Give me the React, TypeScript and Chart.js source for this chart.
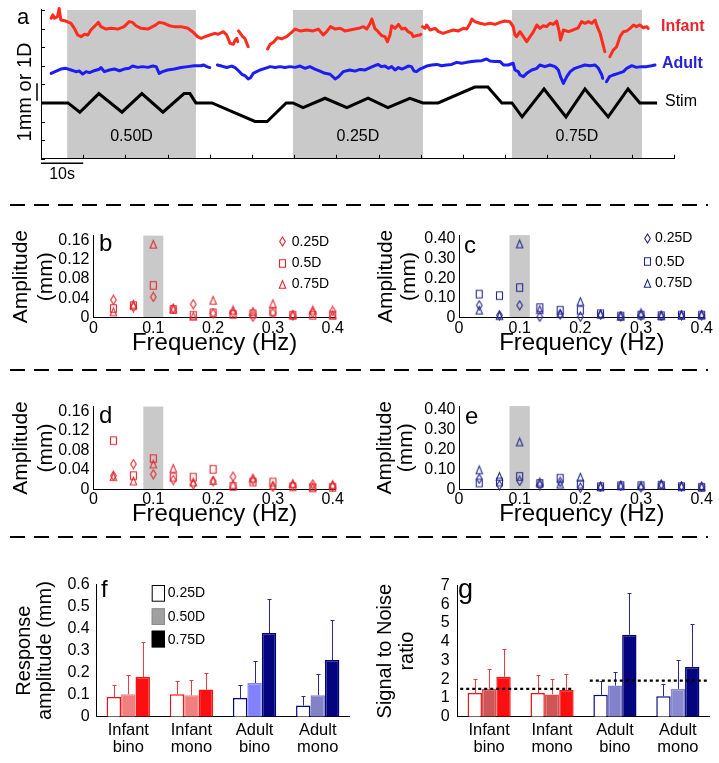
import React, { useEffect, useRef } from 'react';
import { Chart, registerables } from 'chart.js';

Chart.register(...registerables);

const FONT = "'Liberation Sans', Arial, Helvetica, sans-serif";
Chart.defaults.font.family = FONT;
Chart.defaults.font.size = 16;
Chart.defaults.color = '#000';

// ================= Panel a : time traces =================
const timeTicks = [0, 10, 20, 30, 40, 50, 60, 70, 80, 90, 100, 110, 120, 130, 140, 150];
const traceTicks = [0, 1, 2, 3, 4, 5, 6, 7, 8];
const bandStart = [6.2, 59.7, 111.6];
const bandEnd = [36.7, 90.5, 142.4];
const bandLabels = ['0.50D', '0.25D', '0.75D'];
const traceNames = ['Infant', 'Adult', 'Stim'];

const infantT = [2.4,2.8,3.2,3.9,4.3,4.7,5.9,7.1,7.9,8.7,9.5,10.3,11.1,11.8,13.0,13.6,14.2,15.4,16.6,18.2,19.7,20.9,21.7,22.5,23.7,25.3,26.9,28.0,29.2,30.4,31.6,33.2,34.8,35.9,37.1,37.9,38.9,40.0,41.2,42.0,43.2,44.0,44.8,45.6,46.0,46.4,46.6,46.7,46.8,47.8,48.3,49.1,51.0,53.7,54.3,55.1,56.0,57.0,58.2,59.4,60.2,61.4,63.0,64.5,65.7,66.9,67.7,68.6,69.7,70.9,72.0,73.2,74.4,75.6,76.4,77.2,78.0,78.4,79.1,79.9,80.7,81.5,82.1,82.7,83.1,83.9,84.7,85.5,86.3,87.0,87.8,88.2,89.0,89.8,90.0,90.2,90.4,91.0,91.4,92.2,93.4,94.2,95.3,96.5,97.7,98.9,100.1,100.9,101.7,102.1,102.8,104.0,105.2,106.4,107.6,108.8,109.9,111.1,111.9,112.3,112.7,113.5,114.3,115.1,115.9,116.7,117.5,118.2,119.0,119.8,120.6,121.4,122.2,122.8,123.1,123.8,125.0,126.1,127.3,128.1,128.9,129.7,130.5,131.3,131.8,132.5,133.1,133.6,134.2,134.8,135.6,136.4,137.2,138.0,138.8,139.6,140.4,141.1,141.9,142.7,143.5,143.9];
const infantV = [7.55,7.73,7.55,7.64,8.08,7.46,7.40,7.28,7.01,6.65,6.56,6.69,6.65,6.92,7.19,7.33,7.10,6.97,7.01,6.97,7.10,7.37,7.33,7.15,7.01,6.97,7.15,7.33,7.28,7.15,7.10,7.10,7.01,6.83,6.56,6.47,6.56,6.65,6.74,6.69,6.83,6.65,6.20,6.15,6.38,6.47,6.29,null,6.87,6.56,6.47,6.02,null,5.90,6.15,6.26,6.51,6.44,6.56,6.79,6.97,6.87,6.92,6.87,6.97,6.65,6.83,7.10,6.97,7.01,6.87,6.92,6.97,7.03,7.10,6.97,7.28,7.51,7.01,6.83,6.62,6.56,6.29,6.65,7.15,7.01,7.22,6.97,7.01,6.83,6.74,6.56,6.62,6.65,6.69,null,7.10,7.01,7.19,6.92,7.01,6.83,6.74,6.83,6.92,6.87,7.01,6.97,7.28,7.51,7.37,7.28,7.22,7.28,7.22,7.33,7.40,7.37,7.10,6.65,6.56,6.83,6.56,6.29,6.56,6.83,7.19,7.01,7.15,7.10,7.28,7.22,7.40,6.83,6.38,6.92,6.83,6.92,7.04,7.37,7.28,7.37,7.28,7.45,7.10,6.74,6.20,5.75,null,5.49,5.84,6.02,6.56,6.83,6.87,7.01,7.19,7.10,7.19,7.04,7.10,7.01];

const adultT = [2.4,3.6,4.7,5.9,7.1,8.3,9.1,9.9,10.7,11.5,12.6,13.8,14.2,15.0,16.2,17.4,18.6,19.7,20.9,21.7,22.9,24.1,25.3,26.5,27.3,28.0,28.8,30.0,31.6,33.2,34.8,36.3,37.9,38.5,39.3,40.0,40.9,41.8,42.8,44.0,45.2,46.0,46.8,47.6,48.3,49.1,49.7,50.3,51.1,51.9,53.1,54.3,55.5,56.6,57.8,59.0,60.2,61.4,62.6,63.7,64.9,66.1,67.3,68.5,69.7,70.5,71.6,73.2,74.4,75.6,76.8,78.0,79.1,79.9,80.7,81.5,82.3,83.1,83.9,84.7,85.5,86.3,87.0,87.8,88.4,89.0,89.8,90.6,91.4,92.6,93.8,94.9,96.1,97.3,98.5,99.7,100.9,102.1,103.2,104.4,105.6,106.4,107.6,108.8,109.6,110.7,111.9,112.3,113.1,113.5,114.3,115.1,116.3,117.5,118.2,119.4,120.6,121.8,122.6,123.1,123.8,124.6,125.4,126.5,127.7,128.9,130.1,131.3,132.1,132.9,133.1,133.6,134.0,134.7,135.6,136.8,138.0,138.8,140.0,141.1,142.3,143.5,144.7,145.5];
const adultV = [4.59,4.71,4.82,4.86,4.77,4.68,4.71,4.55,4.68,4.63,4.73,4.81,4.90,4.68,4.77,4.82,4.73,4.82,4.86,4.98,4.91,4.95,4.91,4.98,4.95,4.59,4.68,4.77,4.82,4.90,4.95,5.00,5.00,5.04,4.95,4.90,null,5.04,4.98,4.90,4.98,4.90,4.73,4.54,4.47,4.29,4.36,4.59,4.68,4.77,4.86,4.95,4.90,4.95,4.90,4.95,4.91,4.98,4.86,4.95,4.82,4.71,4.59,4.54,4.29,4.41,4.68,4.77,4.71,4.80,4.77,4.90,5.00,5.07,4.95,4.98,4.86,4.95,4.77,4.90,4.82,4.90,4.98,4.95,4.71,4.68,4.82,4.90,4.98,5.04,5.07,5.00,5.04,5.07,5.18,5.13,5.18,5.22,5.25,5.27,5.36,5.25,5.22,5.22,5.04,5.04,5.13,4.77,4.68,4.50,4.41,4.59,4.77,4.86,5.04,4.95,5.04,4.95,4.77,4.41,4.05,4.41,4.68,4.86,4.95,5.04,5.00,5.04,4.86,4.50,4.32,null,4.14,4.41,4.50,4.59,4.68,4.86,5.00,4.91,4.95,4.95,5.00,5.04];

const stimT = [0,6.4,9.2,13.7,19.2,23.9,28.9,33.9,35.3,36.7,40.5,50.7,53.6,58.1,59.7,62.1,67.3,72.5,77.5,82.2,87.4,90.5,94.1,102.8,105.9,109.2,111.6,114.0,119.2,124.4,128.9,134.4,139.1,141.9,146.0];
const stimV = [3,3,2.5,3.5,2.5,3.5,2.5,3.5,3.5,3,3,2,2,3,3,2.75,3.25,2.75,3.25,2.75,3.25,3,3,3.85,3.85,3,3,2.25,3.75,2.25,3.75,2.25,3.75,3,3];

// ================= Panels b-e : spectra =================
const freqs = [0.0333, 0.0667, 0.1, 0.1333, 0.1667, 0.2, 0.2333, 0.2667, 0.3, 0.3333, 0.3667, 0.4];
const freqTicks = [0, 0.1, 0.2, 0.3, 0.4];
const freqTickLabels = ['0', '0.1', '0.2', '0.3', '0.4'];
const stimBand = [0.0833, 0.1167];
const infAmpTicks = [0, 0.04, 0.08, 0.12, 0.16];
const infAmpLabels = ['0', '0.04', '0.08', '0.12', '0.16'];
const adAmpTicks = [0, 0.1, 0.2, 0.3, 0.4];
const adAmpLabels = ['0', '0.10', '0.20', '0.30', '0.40'];
const specLegend = ['0.25D', '0.5D', '0.75D'];

const bD25 = [0.037, 0.022, 0.043, 0.019, 0.028, 0.009, 0.010, 0.002, 0.010, 0.005, 0.010, 0.014];
const bD50 = [0.019, 0.025, 0.067, 0.017, 0.005, 0.010, 0.007, 0.008, 0.012, 0.005, 0.005, 0.005];
const bD75 = [0.012, 0.028, 0.152, 0.018, 0.003, 0.036, 0.016, 0.013, 0.029, 0.006, 0.016, 0.006];

const cD25 = [0.063, 0.013, 0.063, 0.005, 0.016, 0.005, 0.015, 0.008, 0.010, 0.010, 0.013, 0.013];
const cD50 = [0.120, 0.112, 0.153, 0.051, 0.038, 0.038, 0.020, 0.008, 0.013, 0.010, 0.013, 0.013];
const cD75 = [0.038, 0.010, 0.375, 0.041, 0.021, 0.082, 0.018, 0.008, 0.025, 0.010, 0.013, 0.015];

const dD25 = [0.028, 0.052, 0.031, 0.019, 0.010, 0.017, 0.026, 0.019, 0.005, 0.008, 0.010, 0.006];
const dD50 = [0.100, 0.028, 0.063, 0.025, 0.025, 0.041, 0.006, 0.015, 0.015, 0.005, 0.003, 0.004];
const dD75 = [0.026, 0.017, 0.052, 0.043, 0.015, 0.018, 0.010, 0.023, 0.008, 0.012, 0.005, 0.010];

const eD25 = [0.053, 0.021, 0.042, 0.021, 0.037, 0.008, 0.013, 0.018, 0.010, 0.024, 0.016, 0.013];
const eD50 = [0.032, 0.037, 0.065, 0.029, 0.056, 0.026, 0.013, 0.018, 0.018, 0.020, 0.013, 0.010];
const eD75 = [0.098, 0.065, 0.239, 0.037, 0.026, 0.061, 0.013, 0.018, 0.018, 0.024, 0.016, 0.013];

// ================= Panels f-g : bars =================
const groupLabels = [['Infant', 'bino'], ['Infant', 'mono'], ['Adult', 'bino'], ['Adult', 'mono']];
const barLegend = ['0.25D', '0.50D', '0.75D'];
const ampTicks = [0, 0.1, 0.2, 0.3, 0.4, 0.5, 0.6];
const ampTickLabels = ['0', '0.1', '0.2', '0.3', '0.4', '0.5', '0.6'];
const snrTicks = [0, 1, 2, 3, 4, 5, 6, 7];
const snrTickLabels = ['0', '1', '2', '3', '4', '5', '6', '7'];

const ampMean25 = [0.090, 0.102, 0.085, 0.051];
const ampMean50 = [0.102, 0.097, 0.153, 0.097];
const ampMean75 = [0.180, 0.123, 0.380, 0.258];
const ampErr25 = [0.052, 0.060, 0.060, 0.044];
const ampErr50 = [0.086, 0.071, 0.102, 0.095];
const ampErr75 = [0.158, 0.077, 0.153, 0.180];

const snrMean25 = [1.26, 1.26, 1.17, 1.09];
const snrMean50 = [1.49, 1.19, 1.66, 1.49];
const snrMean75 = [2.13, 1.43, 4.38, 2.66];
const snrErr25 = [0.75, 0.96, 0.72, 0.66];
const snrErr50 = [1.05, 0.82, 0.74, 1.52];
const snrErr75 = [1.46, 0.85, 2.22, 2.29];
const snrThresh = [1.49, 1.93];
const snrThreshFrom = [-0.46, 1.6];
const snrThreshTo = [1.34, 3.48];

// ================= colours =================
const RED_TRACE = '#ff2b1c';
const BLUE_TRACE = '#1c1cf5';
const RED_M = '#e3242b';
const BLUE_M = '#25258e';
const GRAY = '#c9c9c9';
const RED = '#fa1010';
const NAVY = '#04047f';

type Box = { x: number; y: number; w: number; h: number };
type Area = { l: number; t: number; r: number; b: number };

function layoutFor(box: Box, area: Area) {
  return { padding: { left: 0, top: area.t - box.y, right: box.x + box.w - area.r, bottom: 0 } };
}

function absDraw(chart: any, box: Box, fn: (ctx: CanvasRenderingContext2D) => void) {
  const ctx = chart.ctx as CanvasRenderingContext2D;
  ctx.save();
  ctx.translate(-box.x, -box.y);
  fn(ctx);
  ctx.restore();
}

function text(ctx: CanvasRenderingContext2D, s: string, x: number, y: number, font: string, color = '#000', align: CanvasTextAlign = 'left', rot = 0) {
  ctx.save();
  ctx.font = font;
  ctx.fillStyle = color;
  ctx.textAlign = align;
  ctx.textBaseline = 'middle';
  ctx.translate(x, y);
  if (rot) ctx.rotate(rot);
  ctx.fillText(s, 0, 0);
  ctx.restore();
}

function makeMarker(shape: string, color: string): HTMLCanvasElement {
  const W = 9, H = 11;
  const c = document.createElement('canvas');
  c.width = W; c.height = H;
  const g = c.getContext('2d')!;
  g.strokeStyle = color; g.lineWidth = 1.1;
  const cx = W / 2, cy = H / 2;
  g.beginPath();
  if (shape === 'diamond') {
    g.moveTo(cx, cy - 4.5); g.lineTo(cx + 2.8, cy); g.lineTo(cx, cy + 4.5); g.lineTo(cx - 2.8, cy);
  } else if (shape === 'square') {
    g.rect(cx - 3, cy - 3.8, 6, 7.6);
  } else {
    g.moveTo(cx, cy - 3.9); g.lineTo(cx + 3.2, cy + 3.8); g.lineTo(cx - 3.2, cy + 3.8);
  }
  g.closePath(); g.stroke();
  return c;
}

const axisBase = {
  grid: { display: false, drawTicks: false },
  border: { display: true, color: '#000', width: 1 },
};

function ChartCanvas({ box, build }: { box: Box; build: () => any }) {
  const ref = useRef<HTMLCanvasElement>(null);
  useEffect(() => {
    const chart = new Chart(ref.current as HTMLCanvasElement, build());
    return () => chart.destroy();
  }, []);
  return (
    <canvas ref={ref} width={box.w} height={box.h}
      style={{ position: 'absolute', left: box.x, top: box.y, width: box.w, height: box.h }} />
  );
}

// ---------- panel a ----------
const A_BOX: Box = { x: 0, y: 0, w: 719, h: 200 };
const A_AREA: Area = { l: 41, t: 9.9, r: 674, b: 158.7 };

function pts(t: number[], v: (number | null)[]) {
  return t.map((x, i) => ({ x, y: v[i] }));
}

function buildA() {
  const box = A_BOX, area = A_AREA;
  return {
    type: 'line',
    data: {
      datasets: [
        { data: pts(infantT, infantV), borderColor: RED_TRACE, borderWidth: 3, borderJoinStyle: 'round', borderCapStyle: 'round', pointRadius: 0, spanGaps: false, clip: false },
        { data: pts(adultT, adultV), borderColor: BLUE_TRACE, borderWidth: 3, borderJoinStyle: 'round', borderCapStyle: 'round', pointRadius: 0, spanGaps: false, clip: false },
        { data: pts(stimT, stimV), borderColor: '#000', borderWidth: 3, pointRadius: 0, clip: false },
      ],
    },
    options: {
      animation: false, responsive: false, events: [],
      layout: layoutFor(box, area),
      plugins: { legend: { display: false }, tooltip: { enabled: false } },
      scales: {
        x: {
          ...axisBase, type: 'linear', min: 0, max: 150,
          ticks: { display: false },
          afterBuildTicks: (s: any) => { s.ticks = timeTicks.map(v => ({ value: v })); },
          afterFit: (s: any) => { s.height = box.y + box.h - area.b; },
        },
        y: {
          ...axisBase, type: 'linear', min: 0, max: 8,
          ticks: { display: false },
          afterBuildTicks: (s: any) => { s.ticks = traceTicks.map(v => ({ value: v })); },
          afterFit: (s: any) => { s.width = area.l - box.x; },
        },
      },
    },
    plugins: [
      {
        id: 'bandsA',
        beforeDraw(chart: any) {
          const { ctx, chartArea: ca, scales: { x } } = chart;
          ctx.save(); ctx.fillStyle = GRAY;
          bandStart.forEach((s, i) => {
            const x0 = x.getPixelForValue(s), x1 = x.getPixelForValue(bandEnd[i]);
            ctx.fillRect(x0, ca.top, x1 - x0, ca.bottom - ca.top);
          });
          ctx.restore();
        },
      },
      {
        id: 'decorA',
        afterDraw(chart: any) {
          const { ctx, chartArea: ca, scales: { x, y } } = chart;
          ctx.save();
          ctx.strokeStyle = '#000'; ctx.lineWidth = 1;
          ctx.beginPath();
          x.ticks.forEach((_: any, i: number) => {
            const px = Math.round(x.getPixelForTick(i)) + 0.5;
            ctx.moveTo(px, ca.bottom); ctx.lineTo(px, ca.bottom - 4);
          });
          y.ticks.forEach((_: any, i: number) => {
            const py = Math.round(y.getPixelForTick(i)) + 0.5;
            ctx.moveTo(ca.left, py); ctx.lineTo(ca.left + 4, py);
          });
          ctx.stroke();
          bandLabels.forEach((l, i) => {
            const cx = x.getPixelForValue((bandStart[i] + bandEnd[i]) / 2);
            text(ctx, l, cx, y.getPixelForValue(1.17), `16px ${FONT}`, '#000', 'center');
          });
          ctx.lineWidth = 1.5;
          ctx.beginPath();
          ctx.moveTo(37, y.getPixelForValue(4.05)); ctx.lineTo(37, y.getPixelForValue(3.12));
          ctx.moveTo(x.getPixelForValue(0), 163.3); ctx.lineTo(x.getPixelForValue(10), 163.3);
          ctx.stroke();
          text(ctx, '10s', x.getPixelForValue(5), 175, `16px ${FONT}`, '#000', 'center');
          text(ctx, '1mm or 1D', 25, 92, `20px ${FONT}`, '#000', 'center', -Math.PI / 2);
          text(ctx, 'a', 17, 18, `22px ${FONT}`);
          text(ctx, traceNames[0], 661, 26.7, `bold 16px ${FONT}`, '#e8262b');
          text(ctx, traceNames[1], 662, 64, `bold 16px ${FONT}`, '#2222dd');
          text(ctx, traceNames[2], 665, 101.7, `16px ${FONT}`, '#000');
          ctx.restore();
        },
      },
    ],
  };
}

// ---------- panels b-e ----------
type ScatterSpec = {
  box: Box; area: Area; yMax: number; yTicks: number[]; yLabels: string[];
  series: number[][]; color: string; titlePad: number; titleLH: number; yPad: number;
  letter: string; letterX: number; letterY: number;
  legend?: { x: number; ys: number[]; tx: number };
};

const specB: ScatterSpec = {
  box: { x: 0, y: 222, w: 360, h: 134 }, area: { l: 93.5, t: 231, r: 335.7, b: 317.7 },
  yMax: 0.17, yTicks: infAmpTicks, yLabels: infAmpLabels, series: [bD25, bD50, bD75], color: RED_M,
  titlePad: 8.3, titleLH: 25, yPad: 4, letter: 'b', letterX: 99, letterY: 244,
  legend: { x: 282.7, ys: [241.7, 263, 284], tx: 291.7 },
};
const specC: ScatterSpec = {
  box: { x: 360, y: 222, w: 359, h: 134 }, area: { l: 459, t: 232.7, r: 704.7, b: 317.7 },
  yMax: 0.42, yTicks: adAmpTicks, yLabels: adAmpLabels, series: [cD25, cD50, cD75], color: BLUE_M,
  titlePad: 14.1, titleLH: 23.4, yPad: 3.5, letter: 'c', letterX: 464, letterY: 246,
  legend: { x: 647.3, ys: [238.3, 261.7, 283.3], tx: 655 },
};
const specD: ScatterSpec = {
  box: { x: 0, y: 393, w: 360, h: 134 }, area: { l: 93.5, t: 401.5, r: 335.7, b: 489.3 },
  yMax: 0.17, yTicks: infAmpTicks, yLabels: infAmpLabels, series: [dD25, dD50, dD75], color: RED_M,
  titlePad: 8.3, titleLH: 25, yPad: 4, letter: 'd', letterX: 99, letterY: 416,
};
const specE: ScatterSpec = {
  box: { x: 360, y: 393, w: 359, h: 134 }, area: { l: 459, t: 402.6, r: 704.7, b: 489.3 },
  yMax: 0.42, yTicks: adAmpTicks, yLabels: adAmpLabels, series: [eD25, eD50, eD75], color: BLUE_M,
  titlePad: 14.1, titleLH: 21.7, yPad: 3.5, letter: 'e', letterX: 465, letterY: 417,
};

const shapes = ['diamond', 'square', 'triangle'];

function buildScatter(sp: ScatterSpec) {
  const { box, area } = sp;
  const markers = shapes.map(s => makeMarker(s, sp.color));
  return {
    type: 'scatter',
    data: {
      datasets: sp.series.map((vals, k) => ({
        data: freqs.map((f, i) => ({ x: f, y: vals[i] })),
        pointStyle: markers[k], pointRadius: 4, borderColor: sp.color,
        backgroundColor: 'rgba(0,0,0,0)', clip: false,
      })),
    },
    options: {
      animation: false, responsive: false, events: [],
      layout: layoutFor(box, area),
      plugins: { legend: { display: false }, tooltip: { enabled: false } },
      scales: {
        x: {
          ...axisBase, type: 'linear', min: 0, max: 0.405,
          afterBuildTicks: (s: any) => { s.ticks = freqTicks.map(v => ({ value: v })); },
          ticks: { padding: 1, font: { size: 16 }, maxRotation: 0, autoSkip: false, callback: (_v: any, i: number) => freqTickLabels[i] },
          title: { display: true, text: 'Frequency (Hz)', font: { size: 24, lineHeight: 1.0 }, padding: { top: 0, bottom: 1 } },
          afterFit: (s: any) => { s.height = box.y + box.h - area.b; },
        },
        y: {
          ...axisBase, type: 'linear', min: 0, max: sp.yMax,
          afterBuildTicks: (s: any) => { s.ticks = sp.yTicks.map(v => ({ value: v })); },
          ticks: { padding: sp.yPad, font: { size: 16 }, autoSkip: false, callback: (_v: any, i: number) => sp.yLabels[i] },
          title: { display: true, text: ['Amplitude', '(mm)'], font: { size: 21, lineHeight: sp.titleLH / 21 }, padding: { top: sp.titlePad, bottom: 0 } },
          afterFit: (s: any) => { s.width = area.l - box.x; },
        },
      },
    },
    plugins: [
      {
        id: 'bandSpec',
        beforeDraw(chart: any) {
          const { ctx, chartArea: ca, scales: { x } } = chart;
          const x0 = x.getPixelForValue(stimBand[0]), x1 = x.getPixelForValue(stimBand[1]);
          ctx.save(); ctx.fillStyle = GRAY;
          ctx.fillRect(x0, ca.top, x1 - x0, ca.bottom - ca.top);
          ctx.restore();
        },
      },
      {
        id: 'decorSpec',
        afterDraw(chart: any) {
          absDraw(chart, box, ctx => {
            text(ctx, sp.letter, sp.letterX, sp.letterY, `24px ${FONT}`);
            if (sp.legend) {
              const lg = sp.legend;
              lg.ys.forEach((yy, k) => {
                const m = markers[k];
                ctx.drawImage(m, Math.round(lg.x - m.width / 2), Math.round(yy - m.height / 2));
                text(ctx, specLegend[k], lg.tx, yy, `14px ${FONT}`);
              });
            }
          });
        },
      },
    ],
  };
}

// ---------- panels f-g ----------
type BarSpec = {
  box: Box; area: Area; yMax: number; yTicks: number[]; yLabels: string[];
  means: number[][]; errs: number[][]; fills: string[][]; borders: string[][]; errColors: string[];
  title: string[]; titlePad: number; titleLH: number; yPad: number;
  letter: string; letterX: number; letterY: number; letterSize: number;
  legend?: boolean; thresh?: boolean;
};

const INF_ERR = '#f23a3a';
const AD_ERR = '#2a2a8c';

const specF: BarSpec = {
  box: { x: 0, y: 568, w: 360, h: 195 }, area: { l: 96.7, t: 583.3, r: 349.3, b: 716.7 },
  yMax: 0.6, yTicks: ampTicks, yLabels: ampTickLabels,
  means: [ampMean25, ampMean50, ampMean75], errs: [ampErr25, ampErr50, ampErr75],
  fills: [['#ffffff', '#ffffff', '#ffffff', '#ffffff'], ['#f27f7f', '#f27f7f', '#8282ff', '#8282c6'], [RED, RED, NAVY, NAVY]],
  borders: [[RED, RED, NAVY, NAVY], ['#f27f7f', '#f27f7f', '#8282ff', '#8282c6'], [RED, RED, NAVY, NAVY]],
  errColors: [INF_ERR, INF_ERR, AD_ERR, AD_ERR],
  title: ['Response', 'amplitude (mm)'], titlePad: 13.5, titleLH: 21, yPad: 7,
  letter: 'f', letterX: 101, letterY: 590, letterSize: 24, legend: true,
};
const specG: BarSpec = {
  box: { x: 360, y: 568, w: 359, h: 195 }, area: { l: 457.7, t: 583.3, r: 709.3, b: 716.7 },
  yMax: 7, yTicks: snrTicks, yLabels: snrTickLabels,
  means: [snrMean25, snrMean50, snrMean75], errs: [snrErr25, snrErr50, snrErr75],
  fills: [['#ffffff', '#ffffff', '#ffffff', '#ffffff'], ['#cf5656', '#cf5656', '#8282cc', '#8a8ad0'], [RED, RED, NAVY, NAVY]],
  borders: [[RED, RED, NAVY, NAVY], ['#cf5656', '#cf5656', '#8282cc', '#8a8ad0'], [RED, RED, NAVY, NAVY]],
  errColors: [INF_ERR, INF_ERR, AD_ERR, AD_ERR],
  title: ['Signal to Noise', 'ratio'], titlePad: 14.5, titleLH: 22, yPad: 8,
  letter: 'g', letterX: 458, letterY: 591, letterSize: 27, thresh: true,
};

function buildBars(sp: BarSpec) {
  const { box, area } = sp;
  return {
    type: 'bar',
    data: {
      labels: groupLabels,
      datasets: sp.means.map((m, k) => ({
        data: m, backgroundColor: sp.fills[k], borderColor: sp.borders[k], borderWidth: 1.5,
        categoryPercentage: 0.686, barPercentage: 1,
      })),
    },
    options: {
      animation: false, responsive: false, events: [],
      layout: layoutFor(box, area),
      plugins: { legend: { display: false }, tooltip: { enabled: false } },
      scales: {
        x: {
          ...axisBase,
          ticks: { padding: 4.5, font: { size: 16.5, lineHeight: 1.07 }, maxRotation: 0, autoSkip: false },
          afterFit: (s: any) => { s.height = box.y + box.h - area.b; },
        },
        y: {
          ...axisBase, type: 'linear', min: 0, max: sp.yMax,
          afterBuildTicks: (s: any) => { s.ticks = sp.yTicks.map(v => ({ value: v })); },
          ticks: { padding: sp.yPad, font: { size: 16 }, autoSkip: false, callback: (_v: any, i: number) => sp.yLabels[i] },
          title: { display: true, text: sp.title, font: { size: 20, lineHeight: sp.titleLH / 20 }, padding: { top: sp.titlePad, bottom: 0 } },
          afterFit: (s: any) => { s.width = area.l - box.x; },
        },
      },
    },
    plugins: [
      {
        id: 'errBars',
        afterDatasetsDraw(chart: any) {
          const { ctx, scales: { x, y } } = chart;
          ctx.save(); ctx.lineWidth = 1;
          sp.means.forEach((m, k) => {
            const meta = chart.getDatasetMeta(k);
            meta.data.forEach((bar: any, i: number) => {
              const px = Math.round(bar.x) + 0.5;
              const y0 = y.getPixelForValue(m[i]);
              const y1 = Math.round(y.getPixelForValue(m[i] + sp.errs[k][i])) + 0.5;
              ctx.strokeStyle = sp.errColors[i];
              ctx.beginPath();
              ctx.moveTo(px, y0); ctx.lineTo(px, y1);
              ctx.moveTo(px - 2, y1); ctx.lineTo(px + 2, y1);
              ctx.stroke();
            });
          });
          if (sp.thresh) {
            ctx.strokeStyle = '#000'; ctx.lineWidth = 2.2; ctx.setLineDash([3, 3]);
            snrThresh.forEach((v, i) => {
              const py = y.getPixelForValue(v);
              ctx.beginPath();
              ctx.moveTo(x.getPixelForValue(snrThreshFrom[i]), py);
              ctx.lineTo(x.getPixelForValue(snrThreshTo[i]), py);
              ctx.stroke();
            });
          }
          ctx.restore();
        },
      },
      {
        id: 'decorBars',
        afterDraw(chart: any) {
          absDraw(chart, box, ctx => {
            text(ctx, sp.letter, sp.letterX, sp.letterY, `${sp.letterSize}px ${FONT}`);
            if (sp.legend) {
              const fills = ['#ffffff', '#a0a0a0', '#000000'];
              const ys = [585, 608.3, 630.7];
              const ty = [593, 616.7, 640];
              fills.forEach((f, k) => {
                ctx.fillStyle = f;
                ctx.fillRect(151.7, ys[k], 13.3, 16.7);
                ctx.strokeStyle = k === 1 ? '#8c8c8c' : '#000';
                ctx.lineWidth = 1;
                ctx.strokeRect(152.2, ys[k] + 0.5, 12.3, 15.7);
                text(ctx, barLegend[k], 167.7, ty[k], `14px ${FONT}`);
              });
            }
          });
        },
      },
    ],
  };
}

const SEPARATORS = [205, 370, 537];

export default function App() {
  return (
    <div style={{ position: 'absolute', left: 0, top: 0, width: 719, height: 763, background: '#fff', overflow: 'hidden' }}>
      <ChartCanvas box={A_BOX} build={buildA} />
      <ChartCanvas box={specB.box} build={() => buildScatter(specB)} />
      <ChartCanvas box={specC.box} build={() => buildScatter(specC)} />
      <ChartCanvas box={specD.box} build={() => buildScatter(specD)} />
      <ChartCanvas box={specE.box} build={() => buildScatter(specE)} />
      <ChartCanvas box={specF.box} build={() => buildBars(specF)} />
      <ChartCanvas box={specG.box} build={() => buildBars(specG)} />
      <svg width={719} height={763} style={{ position: 'absolute', left: 0, top: 0, pointerEvents: 'none' }}>
        {SEPARATORS.map(y => (
          <line key={y} x1={10} x2={708} y1={y} y2={y} stroke="#000" strokeWidth={2} strokeDasharray="15 9" />
        ))}
      </svg>
    </div>
  );
}
